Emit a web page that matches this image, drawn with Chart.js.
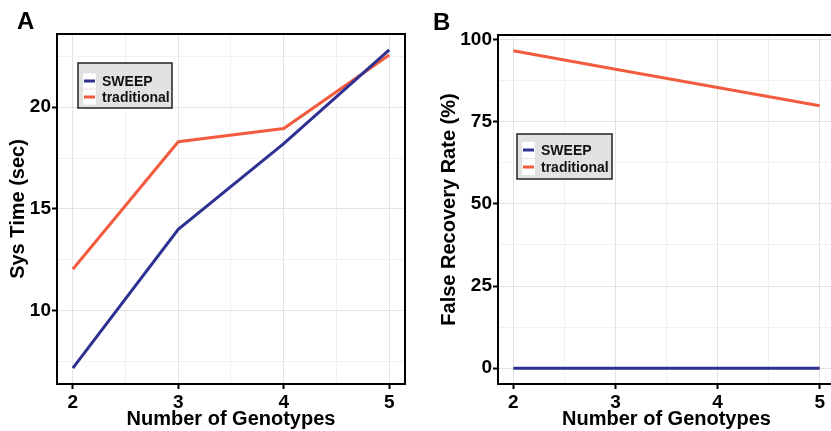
<!DOCTYPE html>
<html>
<head>
<meta charset="utf-8">
<script src="https://cdn.jsdelivr.net/npm/chart.js@4"></script>
<style>
  html, body { margin: 0; padding: 0; background: #fff; overflow: hidden; width: 831px; height: 431px; position: relative; }
  .panel { position: absolute; top: 0; height: 431px; }
  #wrapA { left: 0; width: 420px; }
  #wrapB { left: 420px; width: 480px; }
  .tag { position: absolute; font: bold 24px "Liberation Sans", Arial, sans-serif; line-height: 24px; color: #000; }
</style>
</head>
<body>
<div class="panel" id="wrapA"><canvas id="chartA" width="420" height="431" style="width:420px;height:431px"></canvas></div>
<div class="panel" id="wrapB"><canvas id="chartB" width="480" height="431" style="width:480px;height:431px"></canvas></div>
<div class="tag" style="left:17px; top:9px;">A</div>
<div class="tag" style="left:433px; top:10px;">B</div>
<script>
// ---- data ----
const genotypes = [2, 3, 4, 5];
const seriesNames = ['SWEEP', 'traditional'];
const sysTimeSweep = [7.2, 14.0, 18.2, 22.8];
const sysTimeTraditional = [12.05, 18.3, 18.95, 22.55];
const falseRecoverySweep = [0, 0, 0, 0];
const falseRecoveryTraditional = [96.6, 91.0, 85.4, 79.9];
const xMajorTicks = [2, 3, 4, 5];
const xMinorTicks = [2.5, 3.5, 4.5];
const yMajorTicksA = [10, 15, 20];
const yMinorTicksA = [7.5, 12.5, 17.5, 22.5];
const yMajorTicksB = [0, 25, 50, 75, 100];
const yMinorTicksB = [12.5, 37.5, 62.5, 87.5];
const xTitle = 'Number of Genotypes';
const yTitleA = 'Sys Time (sec)';
const yTitleB = 'False Recovery Rate (%)';

// ---- styles ----
const BLUE = '#2e3192';
const RED = '#f35b3e';
const FONT = '"Liberation Sans", Arial, sans-serif';

function pts(xs, ys) { return xs.map((x, i) => ({ x: x, y: ys[i] })); }

const frameAndLegend = {
  id: 'frameAndLegend',
  afterDatasetsDraw(chart, args, opts) {
    const ctx = chart.ctx;
    const L = opts.box;
    ctx.save();
    ctx.fillStyle = '#e2e2e2';
    ctx.fillRect(L.x, L.y, L.w, L.h);
    ctx.lineWidth = 1.5;
    ctx.strokeStyle = '#222';
    ctx.strokeRect(L.x, L.y, L.w, L.h);
    chart.data.datasets.forEach((ds, i) => {
      const cy = L.y + L.firstRow + i * L.rowH;
      ctx.fillStyle = '#fff';
      ctx.fillRect(L.x + 5, cy - L.rowH / 2 + 0.5, 13, L.rowH - 1);
      ctx.strokeStyle = ds.borderColor;
      ctx.lineWidth = 3;
      ctx.beginPath();
      ctx.moveTo(L.x + 6, cy);
      ctx.lineTo(L.x + 17, cy);
      ctx.stroke();
      ctx.fillStyle = '#111';
      ctx.font = 'bold 14px ' + FONT;
      ctx.textBaseline = 'middle';
      ctx.textAlign = 'left';
      ctx.fillText(ds.label, L.x + 24, cy + 1);
    });
    ctx.restore();
  },
  afterDraw(chart) {
    const ctx = chart.ctx;
    const a = chart.chartArea;
    ctx.save();
    ctx.lineWidth = 2;
    ctx.strokeStyle = '#000';
    ctx.strokeRect(a.left, a.top, a.right - a.left, a.bottom - a.top);
    ctx.restore();
  }
};

function makeChart(id, ys1, ys2, yMin, yMax, yMajor, yMinor, yTitle, cfg) {
  const xAll = xMajorTicks.concat(xMinorTicks).sort((a, b) => a - b);
  const yAll = yMajor.concat(yMinor).sort((a, b) => a - b);
  const isMajor = (arr) => (ctx) => ctx.tick && arr.includes(ctx.tick.value);
  return new Chart(document.getElementById(id), {
    type: 'line',
    data: {
      datasets: [
        { label: seriesNames[0], data: pts(genotypes, ys1), borderColor: BLUE, backgroundColor: BLUE, borderWidth: 3, pointRadius: 0, tension: 0 },
        { label: seriesNames[1], data: pts(genotypes, ys2), borderColor: RED, backgroundColor: RED, borderWidth: 3, pointRadius: 0, tension: 0 }
      ]
    },
    plugins: [frameAndLegend],
    options: {
      responsive: false,
      animation: false,
      devicePixelRatio: 1,
      layout: { padding: { top: cfg.padTop, right: cfg.padRight, left: 0, bottom: 0 } },
      plugins: {
        legend: { display: false },
        tooltip: { enabled: false },
        frameAndLegend: { box: cfg.legend }
      },
      scales: {
        x: {
          type: 'linear', min: 1.85, max: 5.15,
          afterBuildTicks: (s) => { s.ticks = xAll.map(v => ({ value: v })); },
          afterFit: (s) => { s.height = cfg.xHeight; },
          ticks: {
            autoSkip: false, maxRotation: 0, padding: 2, color: '#000',
            font: { family: FONT, size: 19, weight: 'bold' },
            callback: (v) => xMajorTicks.includes(v) ? String(v) : ''
          },
          grid: {
            color: (c) => isMajor(xMajorTicks)(c) ? '#e3e3e3' : '#f1f1f1',
            lineWidth: 1,
            tickLength: 5, tickWidth: 2,
            tickColor: (c) => isMajor(xMajorTicks)(c) ? '#000' : 'rgba(0,0,0,0)'
          },
          border: { display: false },
          title: { display: true, text: xTitle, color: '#000', font: { family: FONT, size: 20, weight: 'bold' }, padding: { top: 0, bottom: 0 } }
        },
        y: {
          type: 'linear', min: yMin, max: yMax,
          afterBuildTicks: (s) => { s.ticks = yAll.map(v => ({ value: v })); },
          afterFit: (s) => { s.width = cfg.yWidth; },
          ticks: {
            autoSkip: false, padding: 1, color: '#000',
            font: { family: FONT, size: 19, weight: 'bold' },
            callback: (v) => yMajor.includes(v) ? String(v) : ''
          },
          grid: {
            color: (c) => isMajor(yMajor)(c) ? '#e3e3e3' : '#f1f1f1',
            lineWidth: 1,
            tickLength: 5, tickWidth: 2,
            tickColor: (c) => isMajor(yMajor)(c) ? '#000' : 'rgba(0,0,0,0)'
          },
          border: { display: false },
          title: { display: true, text: yTitle, color: '#000', font: { family: FONT, size: 20, weight: 'bold' }, padding: { top: cfg.yTitlePad, bottom: 0 } }
        }
      }
    }
  });
}

makeChart('chartA', sysTimeSweep, sysTimeTraditional, 6.42, 23.58, yMajorTicksA, yMinorTicksA, yTitleA, {
  padTop: 34, padRight: 15, yWidth: 57, xHeight: 47, yTitlePad: 6,
  legend: { x: 78, y: 63, w: 94, h: 45, firstRow: 18, rowH: 16 }
});
makeChart('chartB', falseRecoverySweep, falseRecoveryTraditional, -4.8, 101.4, yMajorTicksB, yMinorTicksB, yTitleB, {
  padTop: 35, padRight: 65, yWidth: 78, xHeight: 47, yTitlePad: 17,
  legend: { x: 97, y: 134, w: 95, h: 45, firstRow: 16, rowH: 17 }
});
</script>
</body>
</html>
